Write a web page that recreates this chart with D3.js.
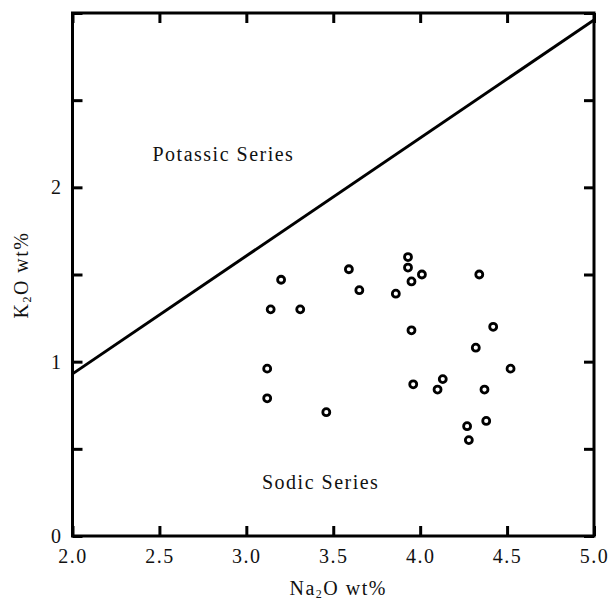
<!DOCTYPE html>
<html lang="en">
<head>
<meta charset="UTF-8">
<title>K2O vs Na2O</title>
<script src="https://cdn.jsdelivr.net/npm/d3@7"></script>
<style>
    body { margin: 0; background: #fff; }
    svg text { font-family: "Liberation Serif", "Times New Roman", serif; fill: #111; letter-spacing: 1.5px; }
    .axis path { display: none; }
    .axis line { stroke: #000; stroke-width: 3; }
    .axis text { font-size: 20px; }
    .frame { fill: none; stroke: #000; stroke-width: 3; }
    .divider { fill: none; stroke: #000; stroke-width: 3; }
    .sample { fill: #fff; stroke: #000; stroke-width: 2.8; }
</style>
</head>
<body>
<div id="chart"></div>
<script>
// samples (Na2O, K2O in wt%)
var na2o = [3.93, 3.93, 3.59, 4.01, 4.34, 3.20, 3.95, 3.65, 3.86, 3.14, 3.31, 4.42, 3.95,
            4.32, 3.12, 4.52, 4.13, 3.96, 4.10, 4.37, 3.12, 3.46, 4.38, 4.27, 4.28];
var k2o  = [1.60, 1.54, 1.53, 1.50, 1.50, 1.47, 1.46, 1.41, 1.39, 1.30, 1.30, 1.20, 1.18,
            1.08, 0.96, 0.96, 0.90, 0.87, 0.84, 0.84, 0.79, 0.71, 0.66, 0.63, 0.55];

// dividing line between the two series
var lineNa = [2.0, 5.0];
var lineK  = [0.93, 2.96];

var xTicks = [2.0, 2.5, 3.0, 3.5, 4.0, 4.5, 5.0];
var yTicks = [0, 0.5, 1, 1.5, 2, 2.5, 3];

var fieldLabels = ["Potassic Series", "Sodic Series"];
var fieldNa = [2.46, 3.09];
var fieldK  = [2.15, 0.27];

var width = 614, height = 603;
var margin = { top: 13, right: 20, bottom: 67, left: 72.5 };
var w = width - margin.left - margin.right,
    h = height - margin.top - margin.bottom;

var svg = d3.select("#chart").append("svg")
    .attr("width", width)
    .attr("height", height);

var g = svg.append("g")
    .attr("transform", "translate(" + margin.left + "," + margin.top + ")");

var x = d3.scaleLinear().domain([2, 5]).range([0, w]);
var y = d3.scaleLinear().domain([0, 3]).range([h, 0]);

g.append("defs").append("clipPath").attr("id", "plot-clip")
    .append("rect").attr("width", w).attr("height", h);

// axes, ticks pointing inward
g.append("g").attr("class", "axis")
    .attr("transform", "translate(0," + h + ")")
    .call(d3.axisBottom(x).tickValues(xTicks).tickSize(-10).tickPadding(13).tickFormat(d3.format(".1f")));

g.append("g").attr("class", "axis")
    .call(d3.axisLeft(y).tickValues(yTicks).tickSize(-10).tickPadding(10)
        .tickFormat(function(d) { return Number.isInteger(d) && d < 3 ? d : ""; }));

g.append("g").attr("class", "axis")
    .call(d3.axisTop(x).tickValues(xTicks).tickSize(-10).tickFormat(""));

g.append("g").attr("class", "axis")
    .attr("transform", "translate(" + w + ",0)")
    .call(d3.axisRight(y).tickValues(yTicks).tickSize(-10).tickFormat(""));

g.append("rect").attr("class", "frame").attr("width", w).attr("height", h);

// divider line
var lineData = d3.zip(lineNa, lineK);
g.append("path")
    .datum(lineData)
    .attr("class", "divider")
    .attr("clip-path", "url(#plot-clip)")
    .attr("d", d3.line().x(function(d) { return x(d[0]); }).y(function(d) { return y(d[1]); }));

// samples
g.selectAll("circle.sample")
    .data(d3.zip(na2o, k2o))
    .enter().append("circle")
    .attr("class", "sample")
    .attr("cx", function(d) { return x(d[0]); })
    .attr("cy", function(d) { return y(d[1]); })
    .attr("r", 3.5);

// field labels
g.selectAll("text.field")
    .data(d3.zip(fieldLabels, fieldNa, fieldK))
    .enter().append("text")
    .attr("class", "field")
    .attr("x", function(d) { return x(d[1]); })
    .attr("y", function(d) { return y(d[2]); })
    .style("font-size", "20px")
    .text(function(d) { return d[0]; });

// axis titles
var xt = svg.append("text")
    .attr("x", margin.left + w / 2 + 5)
    .attr("y", 595)
    .attr("text-anchor", "middle")
    .style("font-size", "20px");
xt.append("tspan").text("Na");
xt.append("tspan").attr("dy", 3).style("font-size", "12px").text("2");
xt.append("tspan").attr("dy", -3).text("O wt%");

var yt = svg.append("text")
    .attr("transform", "translate(28,275) rotate(-90)")
    .attr("text-anchor", "middle")
    .style("font-size", "20px");
yt.append("tspan").text("K");
yt.append("tspan").attr("dy", 3).style("font-size", "12px").text("2");
yt.append("tspan").attr("dy", -3).text("O wt%");
</script>
</body>
</html>
